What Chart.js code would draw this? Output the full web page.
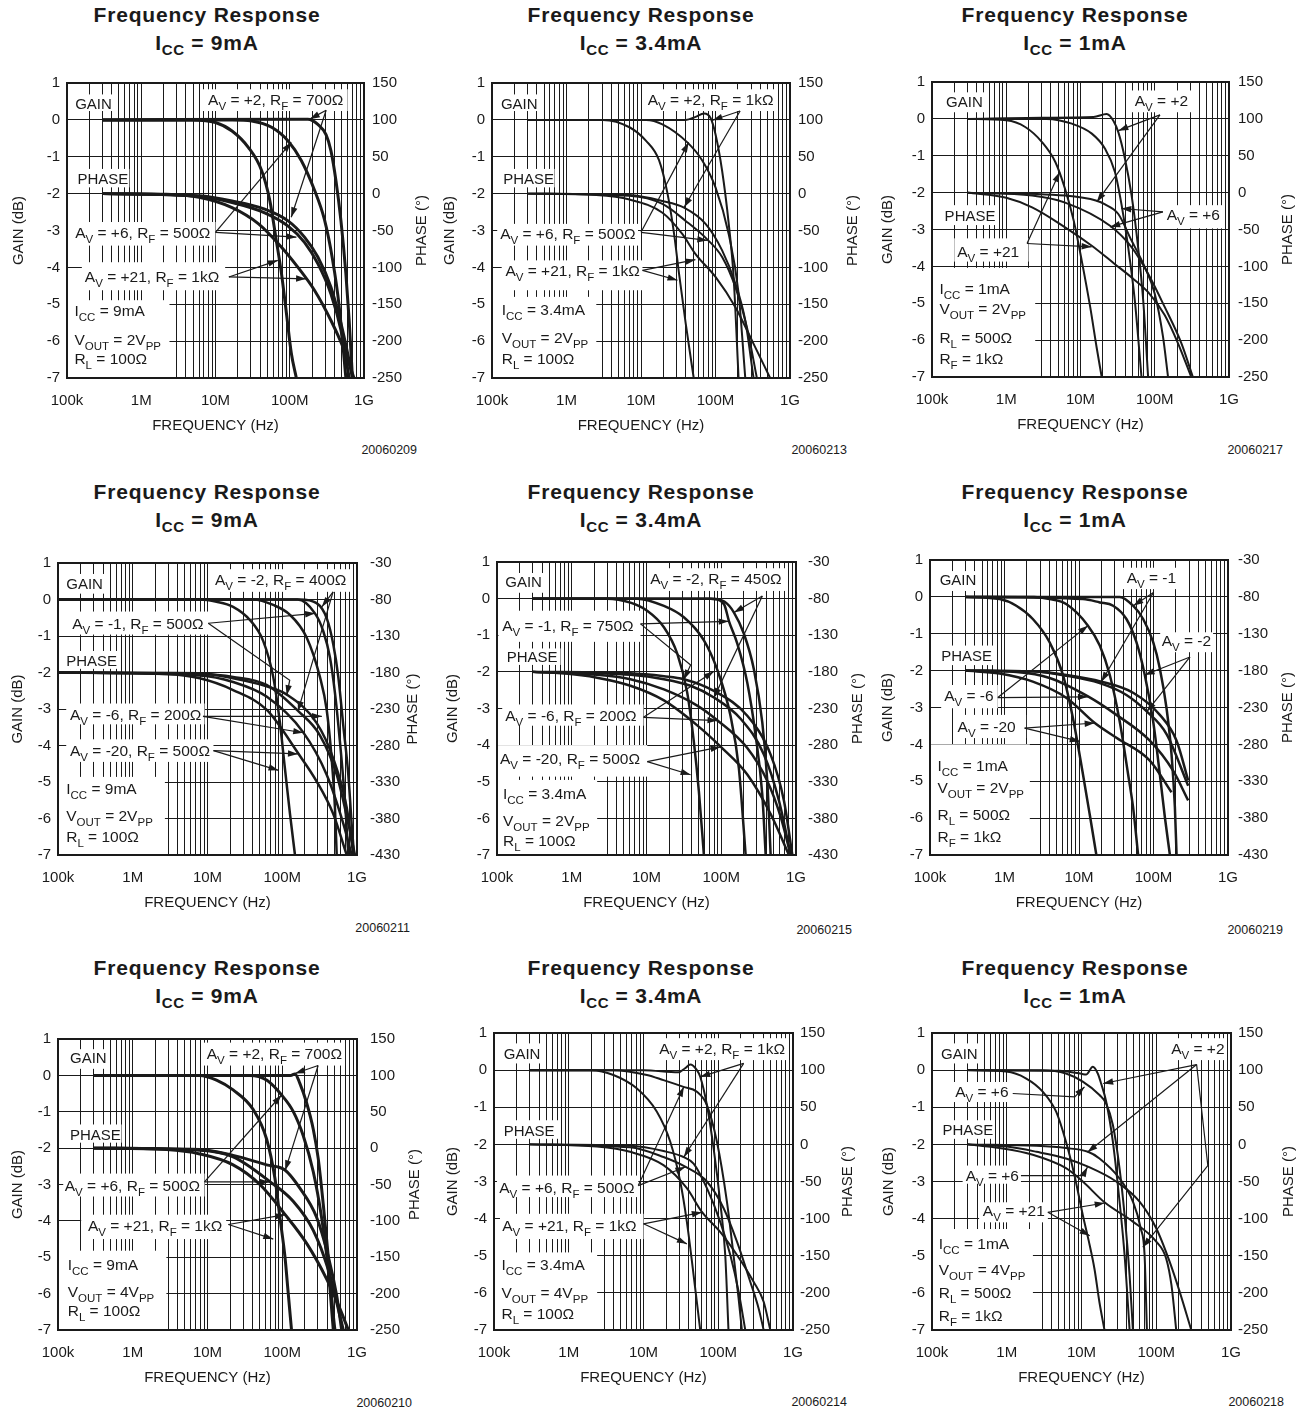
<!DOCTYPE html>
<html>
<head>
<meta charset="utf-8">
<script src="https://cdn.jsdelivr.net/npm/chart.js@4.4.1/dist/chart.umd.min.js"></script>
<style>
  html, body { margin: 0; padding: 0; background: #fff; }
  body { position: relative; width: 1306px; height: 1414px; overflow: hidden; font-family: "Liberation Sans", Arial, sans-serif; color: #1a1a1a; }
  canvas { position: absolute; }
  .title { position: absolute; width: 420px; margin-left: -210px; text-align: center; font-weight: bold; font-size: 21px; letter-spacing: 0.8px; line-height: 28px; }
  .title .sub { font-size: 15px; position: relative; top: 5px; letter-spacing: 0.5px; }
  .fig { position: absolute; width: 120px; text-align: right; font-size: 12.5px; line-height: 16px; }
</style>
</head>
<body>
<script>
// axis labels
const freqTickLabels = ['100k', '1M', '10M', '100M', '1G'];
const phaseRangeNonInv = [-250, 150];
const phaseRangeInv = [-430, -30];

// curves: [frequency MHz, gain dB] or [frequency MHz, phase deg]
// Icc = 9mA, Vout = 2Vpp, non-inverting
const p1GainAv2 = [[0.3, 0], [175, 0.02], [239, -0.12], [308, -0.4], [359, -0.84], [419, -1.65], [489, -2.73], [570, -4.17], [631, -5.43], [699, -7]];
const p1GainAv6 = [[0.3, 0], [16.7, 0], [30.8, -0.03], [57, -0.2], [95, -0.57], [143, -1.1], [215, -1.9], [293, -2.7], [378, -3.8], [464, -5.07], [570, -7]];
const p1GainAv21 = [[0.3, 0], [4.9, 0], [10, -0.07], [16.7, -0.3], [27.8, -0.75], [41.9, -1.38], [53.9, -2.19], [65.9, -3.27], [77.4, -4.17], [90.3, -5.25], [105, -6.33], [122.7, -7]];
const p1PhaseAv2 = [[0.3, 0], [6, -3], [16.7, -10], [46, -21], [95, -37], [158, -59], [239, -86], [359, -127], [489, -176], [603, -217], [699, -250]];
const p1PhaseAv6 = [[0.3, 0], [6, -4], [16.7, -12], [46, -26], [95, -44], [158, -66], [239, -95], [359, -136], [489, -185], [631, -250]];
const p1PhaseAv21 = [[0.3, 0], [2.15, -1], [6, -5], [16.7, -19], [38, -41], [78, -73], [129, -100], [215, -131], [359, -172], [541, -212], [733, -250]];

// Icc = 3.4mA, Vout = 2Vpp, non-inverting
const p2GainAv2 = [[0.3, 0], [39.8, 0], [54, 0.08], [70, 0.17], [85.8, 0.05], [100, -0.39], [122.7, -1.38], [150.6, -2.82], [175, -4.26], [204, -7]];
const p2GainAv6 = [[0.3, 0], [11.7, 0], [19.4, -0.12], [41.9, -0.61], [66.4, -1.1], [100, -1.83], [150.6, -3.1], [204, -4.7], [251, -7]];
const p2GainAv21 = [[0.3, 0], [3.08, 0], [7, -0.2], [11.7, -0.57], [17.5, -1.1], [22.7, -2], [27.8, -3.09], [32.4, -4.17], [39.8, -5.52], [51, -7]];
const p2PhaseAv2 = [[0.3, 0], [7, -2], [19.4, -10], [37.8, -19], [73.6, -41], [122.7, -77], [185, -122], [251, -172], [324, -250]];
const p2PhaseAv6 = [[0.3, 0], [7, -3], [19.4, -14], [39.8, -37], [77.4, -62], [122.7, -86], [185, -127], [264, -181], [359, -250]];
const p2PhaseAv21 = [[0.3, 0], [2.51, -2], [7, -8], [19.4, -26], [36, -55], [54, -82], [100, -113], [185, -154], [308, -199], [541, -250]];

// Icc = 1mA, Vout = 2Vpp, non-inverting
const p3GainAv2 = [[0.3, 0], [3, 0.03], [15, 0.05], [22.5, 0.13], [27.7, -0.05], [32.3, -0.36], [39.7, -1.08], [48.7, -2.07], [59.8, -3.5], [70, -4.94], [81.4, -7]];
const p3GainAv6 = [[0.3, 0], [3.5, 0], [7.65, -0.13], [14.2, -0.4], [21.4, -0.81], [29.1, -1.44], [35.8, -2.34], [44, -3.5], [54, -4.94], [66.3, -7]];
const p3GainAv21 = [[0.3, 0], [1, -0.04], [1.8, -0.22], [3.03, -0.63], [4.58, -1.17], [6.2, -1.9], [8.1, -2.76], [10.4, -3.85], [13.5, -5.1], [16.5, -6.2], [19.3, -7]];
const p3PhaseAv2 = [[0.3, 0], [6.2, -4], [16.5, -11], [21.4, -16], [32.3, -29], [48.7, -65], [73.5, -101], [100, -137], [129, -195], [151, -250]];
const p3PhaseAv6 = [[0.3, 0], [2.23, -4], [6.2, -13.5], [25, -45], [48.7, -74], [81.4, -110], [136, -155], [228, -204], [326, -250]];
const p3PhaseAv21 = [[0.3, 0], [1, -7], [2.23, -20], [6.2, -47], [14.2, -72], [29.1, -97], [48.7, -115], [81.4, -135], [136, -166], [205, -204], [310, -250]];

// Icc = 9mA, inverting
const p4GainAvm2 = [[0.1, 0], [172, 0], [288, -0.1], [393, -0.51], [482, -1.23], [562, -2.12], [656, -3.46], [766, -4.81], [849, -6.16], [912, -7]];
const p4GainAvm1 = [[0.1, 0], [160, 0], [274, -0.38], [354, -0.87], [435, -1.59], [507, -2.56], [592, -3.91], [690, -5.52], [766, -7]];
const p4GainAvm6 = [[0.1, 0], [40.9, 0], [75.7, -0.15], [127, -0.42], [212, -1.04], [319, -2.12], [393, -3.02], [458, -4.36], [507, -5.71], [535, -7]];
const p4GainAvm20 = [[0.1, 0], [7.9, 0], [13.2, -0.06], [22, -0.2], [36.9, -0.56], [55.7, -1.14], [75.7, -2.12], [93, -3.37], [108.6, -4.63], [127, -5.88], [148, -7]];
const p4PhaseAvm2 = [[0.1, -180], [7.9, -182], [22, -186], [61.7, -197], [164, -233], [319, -266], [535, -320], [766, -387], [940, -430]];
const p4PhaseAvm1 = [[0.1, -180], [7.9, -181], [22, -188], [61.7, -199], [114, -210], [288, -249], [482, -298], [728, -365], [893, -430]];
const p4PhaseAvm6 = [[0.1, -180], [7.9, -184], [22, -193], [61.7, -213], [191, -262], [393, -320], [656, -387], [849, -430]];
const p4PhaseAvm20 = [[0.1, -180], [2.83, -182], [7.9, -188], [22, -204], [61.7, -231], [164, -291], [288, -329], [482, -374], [728, -430]];

// Icc = 3.4mA, inverting
const p5GainAvm2 = [[0.3, 0], [72, 0], [110, -0.08], [148, -0.38], [201, -0.96], [274, -1.94], [354, -3.38], [413, -4.99], [458, -7]];
const p5GainAvm1 = [[0.3, 0], [72, 0], [108.6, -0.15], [127, -0.62], [164, -1.23], [223, -2.3], [288, -3.73], [354, -5.35], [393, -7]];
const p5GainAvm6 = [[0.3, 0], [7.5, 0], [17.1, -0.2], [31.6, -0.51], [58.6, -1.14], [88.4, -1.94], [133, -3.2], [172, -4.63], [212, -7]];
const p5GainAvm20 = [[0.3, 0], [2.97, 0], [6.1, -0.11], [10.2, -0.33], [17.1, -0.78], [25.8, -1.5], [35, -2.56], [43, -3.91], [50.2, -5.26], [58.6, -7]];
const p5PhaseAvm1 = [[0.3, -180], [6.1, -182], [17.1, -186], [31.6, -190], [79.8, -206], [223, -240], [458, -293], [690, -356], [893, -430]];
const p5PhaseAvm2 = [[0.3, -180], [6.1, -184], [17.1, -190], [38.8, -199], [79.8, -215], [181.5, -244], [373, -293], [592, -356], [849, -430]];
const p5PhaseAvm6 = [[0.3, -180], [2.18, -184], [6.1, -190], [17.1, -204], [47.7, -226], [88.4, -246], [223, -284], [413, -329], [624, -378], [849, -430]];
const p5PhaseAvm20 = [[0.3, -180], [0.78, -182], [2.18, -188], [6.1, -199], [17.1, -219], [47.7, -253], [98, -282], [223, -320], [458, -374], [805, -430]];

// Icc = 1mA, inverting
const p6GainAvm1 = [[0.3, 0], [35.2, 0], [53.2, -0.24], [72.6, -0.6], [99, -1.23], [121.6, -1.94], [149.6, -3.02], [174.6, -4.27], [193.6, -5.7], [204, -7]];
const p6GainAvm2 = [[0.3, 0], [11.3, -0.06], [19, -0.15], [28.7, -0.24], [43.3, -0.6], [59, -1.23], [76.4, -2.12], [99, -3.38], [121.6, -4.81], [142, -5.97], [166, -7]];
const p6GainAvm6 = [[0.3, 0], [2.5, 0], [4.03, -0.06], [6.8, -0.2], [13.2, -0.78], [19, -1.32], [25.9, -2.12], [35.2, -3.38], [45.6, -4.81], [53.2, -5.71], [62.2, -7]];
const p6GainAvm20 = [[0.3, 0], [0.86, -0.06], [1.44, -0.24], [2.4, -0.6], [4.03, -1.23], [6.1, -2.12], [8.3, -3.29], [11.3, -4.81], [13.9, -5.89], [17.1, -7]];
const p6PhaseAvm1 = [[0.3, -180], [2.4, -181], [6.8, -186], [20, -195], [53.2, -210], [121.6, -240], [204, -275], [292, -329]];
const p6PhaseAvm2 = [[0.3, -180], [2.4, -181], [6.8, -187], [19, -197], [43.3, -213], [80.5, -235], [149.6, -266], [292, -336]];
const p6PhaseAvm6 = [[0.3, -180], [1.44, -182], [4.03, -190], [13.2, -215], [31.8, -240], [89.3, -275], [184, -316], [292, -356]];
const p6PhaseAvm20 = [[0.3, -180], [0.86, -184], [2.4, -195], [6.8, -217], [16.3, -251], [31.8, -271], [89.3, -302], [174.6, -345]];

// Icc = 9mA, Vout = 4Vpp, non-inverting
const p7GainAv2 = [[0.3, 0], [130, 0], [148, 0.04], [172, -0.22], [212, -0.76], [260, -1.48], [303, -2.29], [354, -3.55], [413, -4.99], [482, -6.6], [507, -7]];
const p7GainAv6 = [[0.3, 0], [36.9, 0], [61.7, -0.13], [97.9, -0.54], [140, -0.99], [191, -1.66], [260, -2.65], [336, -3.91], [413, -5.35], [482, -7]];
const p7GainAv21 = [[0.3, 0], [7.9, 0], [13.2, -0.13], [22, -0.4], [40.9, -0.94], [61.7, -1.75], [79.8, -2.83], [93, -3.9], [108.6, -4.98], [120, -5.97], [133, -7]];
const p7PhaseAv2 = [[0.3, 0], [7.9, -2], [22, -10], [61.7, -23], [108.6, -30], [172, -55], [288, -95], [413, -149], [535, -203], [624, -250]];
const p7PhaseAv6 = [[0.3, 0], [7.9, -3], [22, -12], [68.4, -46], [140, -73], [260, -113], [413, -167], [535, -212], [656, -250]];
const p7PhaseAv21 = [[0.3, 0], [2.83, -2], [7.9, -8], [22, -23], [50.2, -50], [108.6, -91], [212, -131], [393, -180], [592, -221], [766, -250]];

// Icc = 3.4mA, Vout = 4Vpp, non-inverting
const p8GainAv2 = [[0.3, 0], [10, 0], [29.4, -0.06], [36, 0.05], [42.2, 0.15], [51.8, 0], [57.4, -0.18], [70.5, -0.94], [86.7, -2.11], [106, -3.54], [124, -4.98], [137, -7]];
const p8GainAv6 = [[0.3, 0], [4, 0], [11.1, -0.13], [18.5, -0.27], [34.3, -0.45], [51.8, -0.58], [70.5, -0.94], [96, -1.93], [130.6, -3.54], [160, -4.98], [187, -6.14], [207, -7]];
const p8GainAv21 = [[0.3, 0], [2, 0], [3.96, -0.13], [8.1, -0.49], [15.1, -1.12], [22.8, -1.93], [31, -3], [38, -4.08], [46.8, -5.52], [57.4, -7]];
const p8PhaseAv2 = [[0.3, 0], [6.6, -2], [18.5, -9], [34.3, -17], [46.8, -26], [70.5, -59], [106, -104], [145, -149], [187, -198], [230, -250]];
const p8PhaseAv6 = [[0.3, 0], [6.6, -4], [18.5, -17], [36.1, -30], [70.5, -50], [118, -86], [178, -131], [268, -185], [347, -221], [405, -250]];
const p8PhaseAv21 = [[0.3, 0], [2.37, -3], [6.6, -10], [18.5, -28], [38, -59], [60.4, -91], [106, -118], [178, -149], [297, -185], [405, -212], [497, -250]];

// Icc = 1mA, Vout = 4Vpp, non-inverting
const p9GainAv2 = [[0.3, 0], [5, -0.02], [10, -0.1], [11.5, -0.12], [14.2, 0.09], [16.5, -0.09], [18.3, -0.36], [21.4, -0.85], [26.3, -1.93], [32.3, -3.54], [37.7, -4.98], [44, -7]];
const p9GainAv6 = [[0.3, 0], [3, 0], [6.2, -0.09], [10.4, -0.31], [17.4, -0.67], [21.4, -0.9], [26.3, -1.48], [32.3, -2.65], [37.7, -3.9], [44, -5.53], [48.7, -7]];
const p9GainAv21 = [[0.3, 0], [0.98, -0.04], [1.8, -0.22], [3.03, -0.58], [4.58, -1.12], [6.2, -1.93], [8.05, -2.83], [10.4, -3.9], [12.5, -4.6], [14.9, -5.35], [17.4, -6.26], [20.3, -7]];
const p9PhaseAv2 = [[0.3, 0], [2.5, -2], [6.2, -5], [12.2, -10], [17.4, -19], [32.3, -46], [48.7, -77], [62, -113], [69.8, -149], [75, -250]];
const p9PhaseAv6 = [[0.3, 0], [1, -3], [2.5, -10], [6.2, -19], [12.2, -30], [29.1, -50], [59.8, -77], [100, -113], [151, -158], [205, -198], [294, -250]];
const p9PhaseAv21 = [[0.3, 0], [0.8, -5], [2.23, -14], [6.2, -32], [10.4, -50], [20.3, -78], [48.7, -104], [100, -131], [136, -154], [160, -190], [185, -250]];

const ink = '#1a1a1a';
const FONT = '"Liberation Sans", Arial, Helvetica, sans-serif';
const LEFT_W = 58, RIGHT_W = 75, TOP_PAD = 16, BOTTOM_H = 62;

// annotation positions are in [decades above 100kHz, gain dB]
const panels = [
  {
    rect: [67, 82, 364, 378], icc: '9mA', fig: '20060209', figPos: [417, 450], phaseRange: phaseRangeNonInv, lw: 3,
    titleOff: [48, 58], rightPad: 8,
    gain: [p1GainAv2, p1GainAv6, p1GainAv21], phase: [p1PhaseAv2, p1PhaseAv6, p1PhaseAv21],
    boxes: [[0.07, 0.69, 0.64, 0.24], [0.11, -1.33, 0.84, -1.83], [1.83, 0.83, 3.78, 0.24], [0, -2.77, 2.0, -3.41], [0.2, -3.86, 2.13, -4.62], [0, -4.89, 1.38, -7.05]],
    texts: [['GAIN', 0.11, 0.45], ['PHASE', 0.14, -1.58], ['A_{V} = +2, R_{F} = 700Ω', 1.9, 0.54], ['A_{V} = +6, R_{F} = 500Ω', 0.11, -3.06],
      ['A_{V} = +21, R_{F} = 1kΩ', 0.24, -4.26], ['I_{CC} = 9mA', 0.1, -5.18], ['V_{OUT} = 2V_{PP}', 0.1, -5.95], ['R_{L} = 100Ω', 0.1, -6.47]],
    arrows: [[[3.49, 0.26], [3.27, 0.02]], [[3.49, 0.26], [3.02, -2.64]], [[2.0, -3.05], [3.02, -0.61]], [[2.0, -3.05], [3.09, -3.18]],
      [[2.18, -4.26], [2.84, -3.81]], [[2.18, -4.26], [3.22, -4.31]]]
  },
  {
    rect: [492, 82, 790, 378], icc: '3.4mA', fig: '20060213', figPos: [847, 450], phaseRange: phaseRangeNonInv, lw: 2,
    titleOff: [42, 63], rightPad: 8,
    gain: [p2GainAv2, p2GainAv6, p2GainAv21], phase: [p2PhaseAv2, p2PhaseAv6, p2PhaseAv21],
    boxes: [[0.09, 0.69, 0.64, 0.24], [0.11, -1.33, 0.84, -1.83], [2.04, 0.83, 3.8, 0.24], [0.07, -2.82, 1.96, -3.41], [0.13, -3.81, 2.02, -4.62], [0, -4.8, 1.4, -7.05]],
    texts: [['GAIN', 0.12, 0.45], ['PHASE', 0.15, -1.58], ['A_{V} = +2, R_{F} = 1kΩ', 2.09, 0.54], ['A_{V} = +6, R_{F} = 500Ω', 0.11, -3.09],
      ['A_{V} = +21, R_{F} = 1kΩ', 0.18, -4.08], ['I_{CC} = 3.4mA', 0.13, -5.14], ['V_{OUT} = 2V_{PP}', 0.13, -5.9], ['R_{L} = 100Ω', 0.13, -6.47]],
    arrows: [[[3.33, 0.24], [2.96, -0.01]], [[3.33, 0.24], [2.58, -2.37]], [[2.0, -3.05], [2.64, -0.61]], [[2.0, -3.05], [2.89, -3.27]],
      [[2.02, -4.08], [2.73, -3.79]], [[2.02, -4.08], [2.49, -4.35]]]
  },
  {
    rect: [932, 80, 1229, 377], icc: '1mA', fig: '20060217', figPos: [1283, 450], phaseRange: phaseRangeNonInv, lw: 2,
    titleOff: [44, 59], rightPad: 9,
    gain: [p3GainAv2, p3GainAv6, p3GainAv21], phase: [p3PhaseAv2, p3PhaseAv6, p3PhaseAv21],
    boxes: [[0.12, 0.72, 0.72, 0.18], [0.1, -2.34, 0.86, -2.88], [2.69, 0.77, 3.49, 0.18], [3.11, -2.34, 3.92, -2.97], [0.3, -3.24, 1.3, -3.87], [0, -4.04, 1.39, -7.05]],
    texts: [['GAIN', 0.19, 0.47], ['PHASE', 0.17, -2.61], ['A_{V} = +2', 2.73, 0.5], ['A_{V} = +6', 3.16, -2.59], ['A_{V} = +21', 0.34, -3.59],
      ['I_{CC} = 1mA', 0.1, -4.59], ['V_{OUT} = 2V_{PP}', 0.1, -5.15], ['R_{L} = 500Ω', 0.1, -5.92], ['R_{F} = 1kΩ', 0.1, -6.5]],
    arrows: [[[3.07, 0.11], [2.51, -0.32]], [[3.07, 0.11], [2.22, -2.25]], [[3.11, -2.52], [2.55, -2.43]], [[3.11, -2.52], [2.4, -2.93]],
      [[1.28, -3.38], [1.72, -1.44]], [[1.28, -3.38], [2.15, -3.47]]]
  },
  {
    rect: [58, 557, 357, 855], icc: '9mA', fig: '20060211', figPos: [410, 928], phaseRange: phaseRangeInv, lw: 2.5,
    titleOff: [40, 56], rightPad: 13,
    gain: [p4GainAvm2, p4GainAvm1, p4GainAvm6, p4GainAvm20], phase: [p4PhaseAvm2, p4PhaseAvm1, p4PhaseAvm6, p4PhaseAvm20],
    boxes: [[0.07, 0.7, 0.65, 0.16], [2.03, 0.83, 3.91, 0.21], [0.16, -0.33, 2.01, -0.96], [0.09, -1.41, 0.83, -1.9], [0.11, -2.85, 1.96, -3.42],
      [0.11, -3.83, 2.08, -4.45], [0, -4.86, 1.43, -7.05]],
    texts: [['GAIN', 0.11, 0.43], ['A_{V} = -2, R_{F} = 400Ω', 2.1, 0.56], ['A_{V} = -1, R_{F} = 500Ω', 0.19, -0.65], ['PHASE', 0.11, -1.66],
      ['A_{V} = -6, R_{F} = 200Ω', 0.16, -3.14], ['A_{V} = -20, R_{F} = 500Ω', 0.16, -4.14],
      ['I_{CC} = 9mA', 0.11, -5.19], ['V_{OUT} = 2V_{PP}', 0.11, -5.93], ['R_{L} = 100Ω', 0.11, -6.5]],
    arrows: [[[3.68, 0.21], [3.53, -0.2]], [[3.68, 0.21], [3.21, -3.06]], [[2.01, -0.65], [3.44, -0.38]], [[2.01, -0.65], [3.1, -2.21], [3.06, -2.62]],
      [[1.94, -3.2], [3.53, -3.2]], [[1.94, -3.2], [3.28, -3.65]], [[2.08, -4.14], [3.21, -4.23]], [[2.08, -4.14], [2.95, -4.68]]]
  },
  {
    rect: [497, 557, 796, 855], icc: '3.4mA', fig: '20060215', figPos: [852, 930], phaseRange: phaseRangeInv, lw: 2.5,
    titleOff: [44, 62], rightPad: 12,
    gain: [p5GainAvm2, p5GainAvm1, p5GainAvm6, p5GainAvm20], phase: [p5PhaseAvm1, p5PhaseAvm2, p5PhaseAvm6, p5PhaseAvm20],
    boxes: [[0.07, 0.7, 0.65, 0.16], [2.01, 0.83, 3.86, 0.21], [0.02, -0.33, 1.92, -1.18], [0.11, -1.36, 0.85, -1.81], [0.07, -2.89, 1.96, -3.47],
      [0, -4.0, 2.01, -4.86], [0, -4.95, 1.34, -7.05]],
    texts: [['GAIN', 0.11, 0.46], ['A_{V} = -2, R_{F} = 450Ω', 2.05, 0.56], ['A_{V} = -1, R_{F} = 750Ω', 0.07, -0.73], ['PHASE', 0.13, -1.59],
      ['A_{V} = -6, R_{F} = 200Ω', 0.11, -3.2], ['A_{V} = -20, R_{F} = 500Ω', 0.04, -4.36],
      ['I_{CC} = 3.4mA', 0.08, -5.32], ['V_{OUT} = 2V_{PP}', 0.08, -6.07], ['R_{L} = 100Ω', 0.08, -6.6]],
    arrows: [[[3.55, 0.07], [3.17, -0.38]], [[3.55, 0.07], [2.9, -2.71]], [[1.92, -0.69], [3.1, -0.62]], [[1.92, -0.69], [2.59, -1.81], [2.5, -2.21]],
      [[1.96, -3.24], [2.9, -1.99]], [[1.96, -3.24], [2.95, -3.33]], [[2.01, -4.45], [2.99, -4.05]], [[2.01, -4.45], [2.59, -4.81]]]
  },
  {
    rect: [930, 557, 1228, 855], icc: '1mA', fig: '20060219', figPos: [1283, 930], phaseRange: phaseRangeInv, lw: 2.5,
    titleOff: [42, 60], rightPad: 10,
    gain: [p6GainAvm1, p6GainAvm2, p6GainAvm6, p6GainAvm20], phase: [p6PhaseAvm1, p6PhaseAvm2, p6PhaseAvm6, p6PhaseAvm20],
    boxes: [[0.08, 0.7, 0.64, 0.16], [2.59, 0.79, 3.33, 0.21], [3.09, -0.96, 3.8, -1.5], [0.1, -1.32, 0.87, -1.85], [0.15, -2.39, 0.91, -3.02],
      [0.33, -3.2, 1.29, -3.83], [0, -4.0, 1.34, -7.05]],
    texts: [['GAIN', 0.13, 0.46], ['A_{V} = -1', 2.64, 0.52], ['A_{V} = -2', 3.11, -1.18], ['PHASE', 0.15, -1.59], ['A_{V} = -6', 0.19, -2.68],
      ['A_{V} = -20', 0.37, -3.51], ['I_{CC} = 1mA', 0.1, -4.56], ['V_{OUT} = 2V_{PP}', 0.1, -5.17], ['R_{L} = 500Ω', 0.1, -5.9], ['R_{F} = 1kΩ', 0.1, -6.5]],
    arrows: [[[3.0, 0.12], [2.73, -0.24]], [[3.0, 0.12], [2.3, -2.3]], [[3.49, -1.63], [2.88, -2.12]], [[3.49, -1.63], [2.91, -3.11]],
      [[0.91, -2.73], [2.12, -0.78]], [[0.91, -2.73], [2.12, -2.71]], [[1.27, -3.56], [2.21, -3.42]], [[1.27, -3.56], [2.01, -3.92]]]
  },
  {
    rect: [58, 1033, 357, 1330], icc: '9mA', fig: '20060210', figPos: [412, 1403], phaseRange: phaseRangeNonInv, lw: 3,
    titleOff: [40, 58], rightPad: 13,
    gain: [p7GainAv2, p7GainAv6, p7GainAv21], phase: [p7PhaseAv2, p7PhaseAv6, p7PhaseAv21],
    boxes: [[0.11, 0.72, 0.65, 0.18], [1.94, 0.9, 3.84, 0.27], [0.11, -1.35, 0.85, -1.85], [0.07, -2.7, 1.96, -3.33], [0.31, -3.83, 2.25, -4.5], [0, -4.82, 1.45, -7.05]],
    texts: [['GAIN', 0.16, 0.48], ['A_{V} = +2, R_{F} = 700Ω', 1.99, 0.59], ['PHASE', 0.16, -1.62], ['A_{V} = +6, R_{F} = 500Ω', 0.09, -3.02],
      ['A_{V} = +21, R_{F} = 1kΩ', 0.4, -4.14], ['I_{CC} = 9mA', 0.13, -5.2], ['V_{OUT} = 4V_{PP}', 0.13, -5.95], ['R_{L} = 100Ω', 0.13, -6.46]],
    arrows: [[[3.48, 0.27], [3.17, 0.05]], [[3.48, 0.27], [3.04, -2.61]], [[1.96, -2.93], [2.99, -0.54]], [[1.96, -2.93], [2.83, -2.93]],
      [[2.28, -4.1], [3.04, -3.83]], [[2.28, -4.1], [2.88, -4.5]]]
  },
  {
    rect: [494, 1033, 793, 1330], icc: '3.4mA', fig: '20060214', figPos: [847, 1402], phaseRange: phaseRangeNonInv, lw: 2,
    titleOff: [41, 55], rightPad: 7,
    gain: [p8GainAv2, p8GainAv6, p8GainAv21], phase: [p8PhaseAv2, p8PhaseAv6, p8PhaseAv21],
    boxes: [[0.08, 0.72, 0.64, 0.18], [2.18, 0.86, 3.94, 0.27], [0.1, -1.35, 0.86, -1.85], [0.04, -2.84, 1.93, -3.42], [0.08, -3.87, 2.0, -4.55], [0, -4.91, 1.38, -7.05]],
    texts: [['GAIN', 0.13, 0.45], ['A_{V} = +2, R_{F} = 1kΩ', 2.21, 0.59], ['PHASE', 0.13, -1.62], ['A_{V} = +6, R_{F} = 500Ω', 0.07, -3.15],
      ['A_{V} = +21, R_{F} = 1kΩ', 0.11, -4.19], ['I_{CC} = 3.4mA', 0.1, -5.24], ['V_{OUT} = 4V_{PP}', 0.1, -6.0], ['R_{L} = 100Ω', 0.1, -6.55]],
    arrows: [[[3.34, 0.18], [2.76, -0.18]], [[3.34, 0.18], [2.54, -2.34]], [[1.93, -3.11], [2.54, -0.45]], [[1.93, -3.11], [2.56, -2.61]],
      [[2.0, -4.14], [2.78, -3.83]], [[2.0, -4.14], [2.58, -4.68]]]
  },
  {
    rect: [932, 1033, 1231, 1330], icc: '1mA', fig: '20060218', figPos: [1284, 1402], phaseRange: phaseRangeNonInv, lw: 2,
    titleOff: [43, 58], rightPad: 7,
    gain: [p9GainAv2, p9GainAv6, p9GainAv21], phase: [p9PhaseAv2, p9PhaseAv6, p9PhaseAv21],
    boxes: [[0.08, 0.72, 0.66, 0.18], [3.16, 0.86, 3.94, 0.27], [0.25, -0.32, 1.06, -0.86], [0.1, -1.35, 0.83, -1.85], [0.41, -2.57, 1.19, -3.06],
      [0.63, -3.56, 1.55, -4.1], [0, -4.28, 1.35, -7.05]],
    texts: [['GAIN', 0.12, 0.45], ['A_{V} = +2', 3.2, 0.59], ['A_{V} = +6', 0.31, -0.57], ['PHASE', 0.14, -1.59], ['A_{V} = +6', 0.45, -2.84],
      ['A_{V} = +21', 0.68, -3.78], ['I_{CC} = 1mA', 0.09, -4.66], ['V_{OUT} = 4V_{PP}', 0.09, -5.38], ['R_{L} = 500Ω', 0.09, -6.0], ['R_{F} = 1kΩ', 0.09, -6.6]],
    arrows: [[[3.54, 0.15], [2.29, -0.36]], [[3.54, 0.15], [2.08, -2.21]], [[3.54, 0.15], [3.69, -2.57], [2.82, -4.77]],
      [[1.08, -0.63], [1.91, -0.72], [2.04, -0.45]], [[1.19, -2.84], [2.02, -2.84], [2.08, -2.61]],
      [[1.55, -3.83], [2.31, -3.58]], [[1.55, -3.83], [2.11, -4.46]]]
  }
];

const titleX = [207, 641, 1075];
const titleTop = [1, 478, 954];

function decadeLabel(v) {
  const e = Math.log10(v);
  const r = Math.round(e);
  return Math.abs(e - r) < 1e-6 ? freqTickLabels[r - 5] : '';
}

function toPoints(rows) {
  return rows.map(([mhz, v]) => ({ x: mhz * 1e6, y: v }));
}

// split "A_{V} = +2" into normal and subscript runs
function richParts(str) {
  const parts = [];
  const re = /_\{([^}]*)\}/g;
  let last = 0, m;
  while ((m = re.exec(str))) {
    if (m.index > last) parts.push({ t: str.slice(last, m.index), sub: false });
    parts.push({ t: m[1], sub: true });
    last = re.lastIndex;
  }
  if (last < str.length) parts.push({ t: str.slice(last), sub: false });
  return parts;
}

function drawRich(ctx, str, x, cy) {
  const base = cy + 5.5;
  const parts = richParts(str);
  const hasSub = parts.some(p => p.sub);
  ctx.textBaseline = 'alphabetic';
  ctx.textAlign = 'left';
  parts.forEach(p => {
    ctx.font = (p.sub ? '11.5px ' : (hasSub ? '15.5px ' : '15px ')) + FONT;
    ctx.fillText(p.t, x, p.sub ? base + 5 : base);
    x += ctx.measureText(p.t).width;
  });
}

function drawArrow(ctx, pts) {
  ctx.beginPath();
  ctx.moveTo(pts[0][0], pts[0][1]);
  for (let i = 1; i < pts.length; i++) ctx.lineTo(pts[i][0], pts[i][1]);
  ctx.stroke();
  const [ax, ay] = pts[pts.length - 2];
  const [bx, by] = pts[pts.length - 1];
  const a = Math.atan2(by - ay, bx - ax);
  const L = 10, W = 3.2;
  const c = Math.cos(a), s = Math.sin(a);
  ctx.beginPath();
  ctx.moveTo(bx, by);
  ctx.lineTo(bx - L * c + W * s, by - L * s - W * c);
  ctx.lineTo(bx - L * c - W * s, by - L * s + W * c);
  ctx.closePath();
  ctx.fill();
}

function makeAnnotator(pn) {
  const px = (chart, u) => chart.scales.x.getPixelForValue(1e5 * Math.pow(10, u));
  const py = (chart, g) => chart.scales.y.getPixelForValue(g);
  return {
    id: 'annotator',
    beforeDatasetsDraw(chart) {
      const ctx = chart.ctx, ca = chart.chartArea;
      ctx.save();
      ctx.beginPath();
      ctx.rect(ca.left, ca.top, ca.right - ca.left, ca.bottom - ca.top);
      ctx.clip();
      ctx.fillStyle = '#fff';
      pn.boxes.forEach(b => {
        const x1 = px(chart, b[0]), x2 = px(chart, b[2]);
        const y1 = py(chart, b[1]), y2 = py(chart, b[3]);
        ctx.fillRect(Math.min(x1, x2), Math.min(y1, y2), Math.abs(x2 - x1), Math.abs(y2 - y1));
      });
      ctx.restore();
    },
    afterDatasetsDraw(chart) {
      const ctx = chart.ctx, ca = chart.chartArea;
      ctx.save();
      ctx.fillStyle = ink;
      ctx.strokeStyle = ink;
      pn.texts.forEach(([str, u, g]) => drawRich(ctx, str, px(chart, u), py(chart, g)));
      ctx.lineWidth = 1.2;
      pn.arrows.forEach(a => drawArrow(ctx, a.map(([u, g]) => [px(chart, u), py(chart, g)])));
      // plot frame
      ctx.lineWidth = 2;
      ctx.strokeRect(ca.left, ca.top, ca.right - ca.left, ca.bottom - ca.top);
      ctx.restore();
    },
    afterDraw(chart) {
      const ctx = chart.ctx, ca = chart.chartArea;
      const cx = (ca.left + ca.right) / 2, cy = (ca.top + ca.bottom) / 2;
      ctx.save();
      ctx.fillStyle = ink;
      ctx.font = '15px ' + FONT;
      ctx.textAlign = 'center';
      ctx.textBaseline = 'middle';
      ctx.fillText('FREQUENCY (Hz)', cx, ca.bottom + 48);
      ctx.translate(ca.left - pn.titleOff[0], cy);
      ctx.rotate(-Math.PI / 2);
      ctx.fillText('GAIN (dB)', 0, 0);
      ctx.restore();
      ctx.save();
      ctx.fillStyle = ink;
      ctx.font = '15px ' + FONT;
      ctx.textAlign = 'center';
      ctx.textBaseline = 'middle';
      ctx.translate(ca.right + pn.titleOff[1], cy);
      ctx.rotate(-Math.PI / 2);
      ctx.fillText('PHASE (°)', 0, 0);
      ctx.restore();
    }
  };
}

function makeChart(pn) {
  const [L, T, R, B] = pn.rect;
  const w = LEFT_W + (R - L) + RIGHT_W;
  const h = TOP_PAD + (B - T) + BOTTOM_H;
  const cv = document.createElement('canvas');
  cv.width = w;
  cv.height = h;
  cv.style.left = (L - LEFT_W) + 'px';
  cv.style.top = (T - TOP_PAD) + 'px';
  cv.style.width = w + 'px';
  cv.style.height = h + 'px';
  document.body.appendChild(cv);

  const line = { borderColor: ink, borderWidth: pn.lw, pointRadius: 0, fill: false, cubicInterpolationMode: 'monotone' };
  const datasets = [];
  pn.gain.forEach(rows => datasets.push({ ...line, data: toPoints(rows), yAxisID: 'y' }));
  pn.phase.forEach(rows => datasets.push({ ...line, data: toPoints(rows), yAxisID: 'y2' }));

  const tickFont = { family: FONT, size: 15 };
  new Chart(cv, {
    type: 'line',
    data: { datasets },
    plugins: [makeAnnotator(pn)],
    options: {
      responsive: false,
      animation: false,
      events: [],
      devicePixelRatio: 1,
      layout: { padding: { top: TOP_PAD, left: 0, right: 0, bottom: 0 } },
      plugins: { legend: { display: false }, tooltip: { enabled: false } },
      scales: {
        x: {
          type: 'logarithmic', min: 1e5, max: 1e9, position: 'bottom',
          afterFit: s => { s.height = BOTTOM_H; },
          afterBuildTicks: s => {
            const t = [];
            for (let e = 5; e < 9; e++) for (let k = 1; k < 10; k++) t.push({ value: k * Math.pow(10, e) });
            t.push({ value: 1e9 });
            s.ticks = t;
          },
          grid: { color: ink, lineWidth: 1, drawTicks: false },
          border: { color: ink, width: 2 },
          ticks: { autoSkip: false, maxRotation: 0, padding: 14, color: ink, font: tickFont, callback: v => decadeLabel(v) }
        },
        y: {
          type: 'linear', min: -7, max: 1, position: 'left',
          afterFit: s => { s.width = LEFT_W; },
          grid: { color: ink, lineWidth: 1, drawTicks: false },
          border: { color: ink, width: 2 },
          ticks: { stepSize: 1, padding: 7, color: ink, font: tickFont }
        },
        y2: {
          type: 'linear', min: pn.phaseRange[0], max: pn.phaseRange[1], position: 'right',
          afterFit: s => { s.width = RIGHT_W; },
          grid: { drawOnChartArea: false, drawTicks: false },
          border: { color: ink, width: 2 },
          ticks: { stepSize: 50, padding: pn.rightPad, color: ink, font: tickFont }
        }
      }
    }
  });
}

panels.forEach((pn, i) => {
  const col = i % 3, row = Math.floor(i / 3);
  const t = document.createElement('div');
  t.className = 'title';
  t.style.left = titleX[col] + 'px';
  t.style.top = titleTop[row] + 'px';
  t.innerHTML = 'Frequency Response<br>I<span class="sub">CC</span> = ' + pn.icc;
  document.body.appendChild(t);

  const f = document.createElement('div');
  f.className = 'fig';
  f.style.left = (pn.figPos[0] - 120) + 'px';
  f.style.top = (pn.figPos[1] - 8) + 'px';
  f.textContent = pn.fig;
  document.body.appendChild(f);

  makeChart(pn);
});
</script>
</body>
</html>
